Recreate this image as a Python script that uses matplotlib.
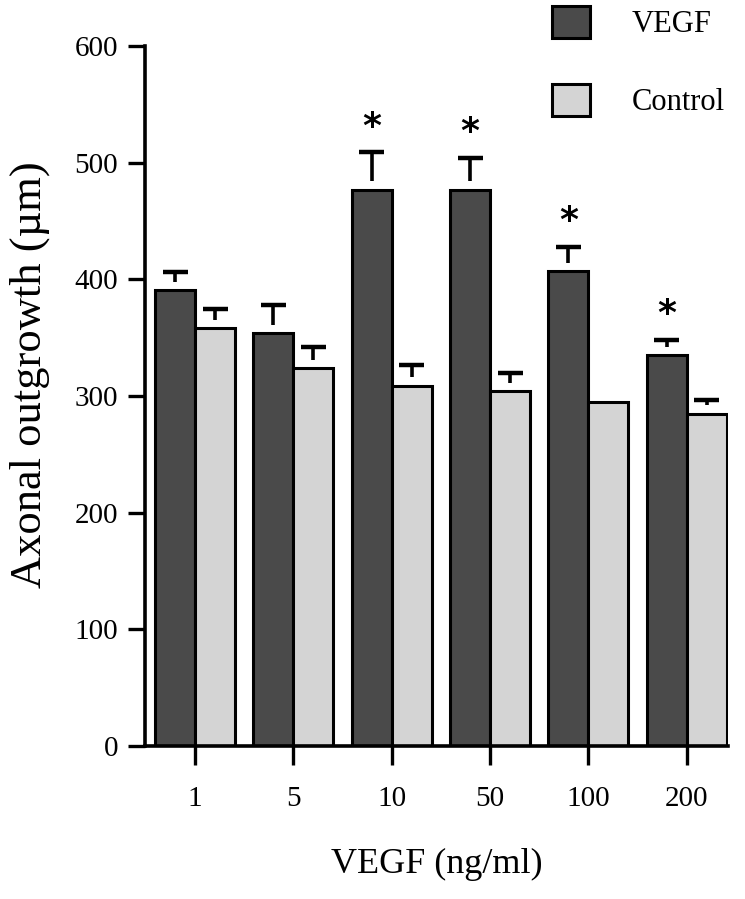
import matplotlib
matplotlib.use("Agg")
import matplotlib.pyplot as plt
import numpy as np

# values
doses = ["1", "5", "10", "50", "100", "200"]
vegf = [391, 354, 477, 477, 407, 335]
vegf_err = [15, 24, 32, 27, 21, 13]
control = [358, 324, 309, 304, 295, 285]
control_err = [17, 18, 18, 16, 0, 12]
significant = [False, False, True, True, True, True]

plt.rcParams['font.family'] = ['Liberation Serif', 'DejaVu Serif']

fig = plt.figure(figsize=(7.45, 8.99), dpi=100)
ax = fig.add_axes([0.1946, 0.1702, 0.7826, 0.7786])

x = np.arange(len(doses))
w = 0.407
dark = '#4a4a4a'
light = '#d4d4d4'

ax.bar(x - w / 2, vegf, w, color=dark, edgecolor='black', linewidth=2.2, label='VEGF', zorder=2)
ax.bar(x + w / 2, control, w, color=light, edgecolor='black', linewidth=2.2, label='Control', zorder=2)

# upper-only error bars, stem starts a little above the bar top
gap = 7
cap = 0.127
for xs, vals, errs in [(x - w / 2, vegf, vegf_err), (x + w / 2, control, control_err)]:
    for xi, v, e in zip(xs, vals, errs):
        if e <= 0:
            continue
        if e > gap:
            ax.vlines(xi, v + gap, v + e, color='black', linewidth=2.6, zorder=3)
        ax.hlines(v + e, xi - cap, xi + cap, color='black', linewidth=3.2, zorder=3)

# significance stars
for xi, v, e, s in zip(x - w / 2, vegf, vegf_err, significant):
    if s:
        ax.text(xi, v + e + 22, '*', ha='center', va='center', fontsize=26,
                fontweight='bold', family='DejaVu Sans')

ax.set_xlim(-0.51, 5.42)
ax.set_ylim(0, 600)
ax.set_yticks(range(0, 601, 100))
ax.set_xticks(x)
ax.set_xticklabels(doses)

for side in ['top', 'right']:
    ax.spines[side].set_visible(False)
for side in ['left', 'bottom']:
    ax.spines[side].set_linewidth(2.6)

ax.tick_params(axis='y', direction='out', length=12.5, width=2.4, pad=7, labelsize=21)
ax.tick_params(axis='x', direction='out', length=14, width=2.4, pad=15, labelsize=21)

ax.set_ylabel('Axonal outgrowth (µm)', fontsize=32)
ax.yaxis.set_label_coords(-0.163, 0.53)
ax.set_xlabel('VEGF (ng/ml)', fontsize=26, labelpad=26)

fig.legend(loc='upper left', bbox_to_anchor=(552 / 745, 1 - 6 / 899), frameon=False,
           fontsize=22, handlelength=1.24, handleheight=1.24, labelspacing=1.45,
           handletextpad=1.37, borderpad=0, borderaxespad=0)

fig.savefig('out.png', dpi=100)
